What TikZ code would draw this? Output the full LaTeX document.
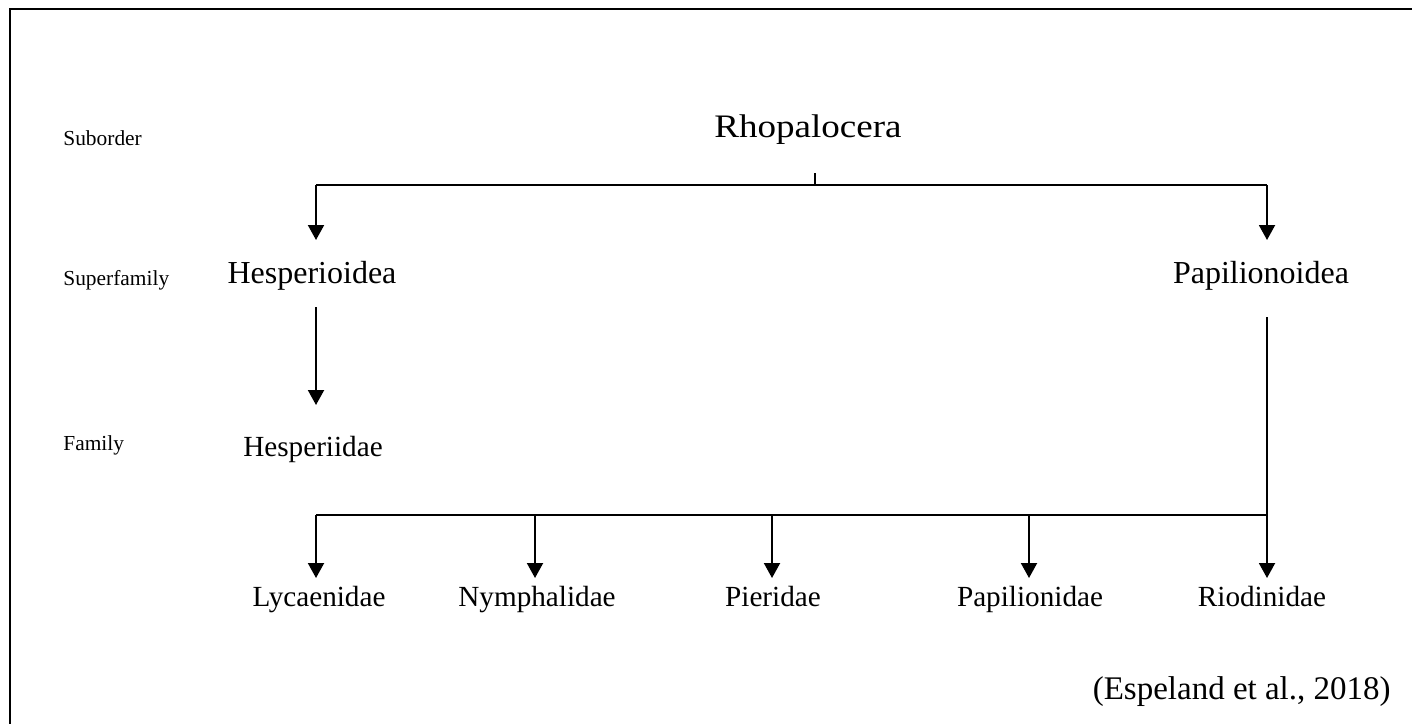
\documentclass[tikz,border=0pt]{standalone}
\usepackage{fontspec}
\setmainfont{Liberation Serif}
\usetikzlibrary{arrows.meta}
\begin{document}
\begin{tikzpicture}[x=0.5pt,y=-0.5pt,
  conn/.style={line width=1pt},
  arr/.style={line width=1pt,-{Triangle[length=7.5pt,width=8pt]}},
  rank/.style={anchor=base west,inner sep=0pt,font=\fontsize{10.7}{12}\selectfont},
  taxon/.style={anchor=base,inner sep=0pt,font=\fontsize{16}{19}\selectfont},
  fam/.style={anchor=base,inner sep=0pt,font=\fontsize{14.6}{17}\selectfont}]
\useasboundingbox (0,0) rectangle (1412,723);
\begin{scope}
\clip (0,0) rectangle (1412,723);
\draw[line width=1pt] (9.5,9) rectangle (1440,760);
\end{scope}
% rank labels
\node[rank] (sub) at (63,145) {Suborder};
\node[rank] (sup) at (63,285) {Superfamily};
\node[rank] (famlab) at (63,450) {Family};
% taxa
\node[anchor=base,inner sep=0pt,font=\fontsize{16.4}{20}\selectfont] (rho) at (808,137) {\scalebox{1.13}[1]{Rhopalocera}};
\node[taxon] (hes) at (312,283) {Hesperioidea};
\node[taxon] (pap) at (1261,283) {Papilionoidea};
\node[fam] (hesp) at (313,456.5) {Hesperiidae};
\node[fam] (lyc) at (319,606.5) {Lycaenidae};
\node[fam] (nym) at (537,606.5) {Nymphalidae};
\node[fam] (pie) at (773,606.5) {Pieridae};
\node[fam] (ppl) at (1030,606.5) {Papilionidae};
\node[fam] (rio) at (1262,606.5) {Riodinidae};
\node[inner sep=0pt,anchor=base east,font=\fontsize{16.5}{20}\selectfont] (src) at (1391,699) {(Espeland et al., 2018)};
% coordinates
\coordinate (tickT) at (815,173);
\coordinate (tickB) at (815,185);
\coordinate (hL) at (316,185);
\coordinate (hR) at (1267,185);
\coordinate (hesT) at (316,240);
\coordinate (papT) at (1267,240);
\coordinate (hesB) at (316,307);
\coordinate (hespT) at (316,405);
\coordinate (papB) at (1267,317);
\coordinate (bL) at (316,515);
\coordinate (bR) at (1267,515);
\coordinate (b2) at (535,515);
\coordinate (b3) at (772,515);
\coordinate (b4) at (1029,515);
\coordinate (e1) at (316,578);
\coordinate (e2) at (535,578);
\coordinate (e3) at (772,578);
\coordinate (e4) at (1029,578);
\coordinate (e5) at (1267,578);
% connectors
\draw[conn] (tickT) -- (tickB);
\draw[conn] (hL) -- (hR);
\draw[arr] (hL) -- (hesT);
\draw[arr] (hR) -- (papT);
\draw[arr] (hesB) -- (hespT);
\draw[conn] (papB) -- (bR) -- (bL);
\draw[arr] (bL) -- (e1);
\draw[arr] (b2) -- (e2);
\draw[arr] (b3) -- (e3);
\draw[arr] (b4) -- (e4);
\draw[arr] (bR) -- (e5);
\end{tikzpicture}
\end{document}
